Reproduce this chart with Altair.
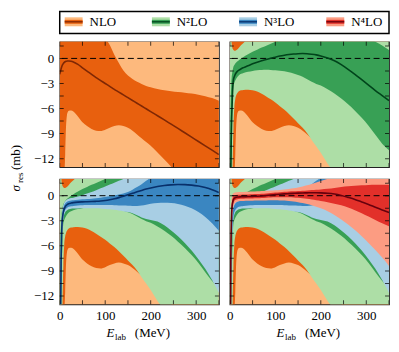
import altair as alt
import pandas as pd

# ---------------- data ----------------
E_LAB = [0, 1, 2, 3, 4, 5, 6, 7, 8, 10, 12, 14, 17, 20, 25, 30, 40, 50, 60, 70, 80, 90, 100,
         110, 120, 130, 140, 150, 160, 170, 180, 190, 200, 215, 230, 245, 260, 275, 290, 305,
         320, 335, 350]

NLO_C = [-1.9, -1.7, -1.45, -1.25, -1.05, -0.9, -0.78, -0.68, -0.6, -0.48, -0.4, -0.35, -0.31,
         -0.3, -0.33, -0.42, -0.72, -1.12, -1.52, -1.92, -2.3, -2.65, -3.0, -3.35, -3.7, -4.03,
         -4.37, -4.7, -5.03, -5.36, -5.7, -6.03, -6.36, -6.86, -7.36, -7.87, -8.38, -8.9, -9.42,
         -9.94, -10.46, -10.98, -11.5]
NLO_HI68 = [9.0, 9.0, 8.9, 8.8, 8.7, 8.6, 8.5, 8.4, 8.3, 8.1, 7.9, 7.7, 7.4, 7.1, 6.7, 6.3, 5.7,
            5.1, 4.6, 4.1, 3.6, 3.0, 2.45, 1.6, 0.45, -0.55, -1.45, -2.05, -2.45, -2.8, -3.05,
            -3.3, -3.45, -3.65, -3.8, -3.92, -4.02, -4.1, -4.2, -4.35, -4.52, -4.75, -5.06]
NLO_LO68 = [-30, -29, -28, -27, -25, -23, -21, -19, -17, -14.2, -11.5, -8.0, -6.5, -6.25, -6.22,
            -6.35, -6.95, -7.65, -8.1, -8.45, -8.65, -8.7, -8.55, -8.3, -8.1, -8.0, -8.1, -8.3,
            -8.65, -9.1, -9.55, -10.0, -10.45, -11.25, -12.1, -12.95, -13.8, -14.6, -15.4,
            -16.2, -17.0, -17.8, -18.6]
NLO_HI95 = [14, 14, 14, 14, 14, 14, 14, 14, 14, 14, 14, 14, 14, 14, 14, 14, 14, 14, 14, 14, 14,
            14, 14, 14, 14, 14, 14, 14, 14, 14, 14, 14, 14, 14, 14, 14, 14, 14, 14, 14, 14, 14, 14]
NLO_LO95 = [-40, -40, -40, -40, -40, -40, -40, -40, -40, -40, -40, -40, -40, -40, -40, -40, -40,
            -40, -40, -40, -40, -40, -40, -40, -40, -40, -40, -40, -40, -40, -40, -40, -40, -40,
            -40, -40, -40, -40, -40, -40, -40, -40, -40]

N2LO_C = [-25, -20, -14, -10, -7.2, -5.5, -4.0, -3.0, -2.55, -2.15, -1.9, -1.72, -1.52, -1.4,
          -1.23, -1.1, -0.88, -0.65, -0.45, -0.28, -0.12, 0.02, 0.15, 0.28, 0.38, 0.46, 0.52,
          0.56, 0.58, 0.56, 0.5, 0.42, 0.3, 0.05, -0.28, -0.75, -1.3, -1.9, -2.55, -3.2, -3.85,
          -4.45, -5.05]
N2LO_HI68 = [-12, -8, -5, -3.2, -2.3, -1.8, -1.45, -1.2, -1.0, -0.8, -0.62, -0.5, -0.35, -0.22,
             -0.02, 0.17, 0.5, 0.8, 1.05, 1.3, 1.52, 1.75, 2.0, 2.25, 2.45, 2.65, 2.8, 2.95, 3.05,
             3.12, 3.15, 3.15, 3.12, 3.05, 2.95, 2.85, 2.75, 2.6, 2.45, 2.25, 2.0, 1.55, 1.0]
N2LO_LO68 = [-40, -30, -22, -15, -10, -7.5, -5.5, -4.0, -3.3, -2.9, -2.65, -2.42, -2.18, -2.0,
             -1.85, -1.75, -1.6, -1.5, -1.42, -1.38, -1.37, -1.38, -1.42, -1.48, -1.55, -1.65,
             -1.8, -1.98, -2.2, -2.5, -2.8, -3.05, -3.25, -3.7, -4.2, -4.8, -5.5, -6.25, -7.1,
             -8.05, -9.15, -10.2, -11.0]
N2LO_HI95 = [12, 8, 4.0, 2.6, 1.8, 1.4, 1.2, 1.1, 1.0, 0.92, 0.92, 0.98, 1.1, 1.28, 1.6, 1.85,
             2.4, 2.9, 3.3, 3.7, 4.0, 4.3, 4.6, 4.8, 5.0, 5.2, 5.3, 5.4, 5.5, 5.5, 5.5, 5.5, 5.5,
             5.4, 5.3, 5.2, 5.1, 5.0, 4.9, 4.8, 4.6, 4.4, 4.2]
N2LO_LO95 = [-45, -40, -33, -26, -20, -16.5, -13.5, -10.5, -8.3, -5.8, -4.85, -4.42, -4.1, -3.92,
             -3.82, -3.77, -3.75, -3.82, -3.97, -4.22, -4.55, -4.9, -5.27, -5.72, -6.15, -6.65,
             -7.2, -7.75, -8.3, -8.95, -9.75, -10.5, -11.3, -12.6, -13.7, -14.8, -15.8, -16.8,
             -17.8, -18.8, -19.8, -20.8, -21.8]

N3LO_C = [-35, -25, -14, -8, -4.8, -3.4, -2.7, -2.25, -1.95, -1.55, -1.32, -1.17, -1.03, -0.95,
          -0.88, -0.83, -0.77, -0.74, -0.72, -0.7, -0.67, -0.63, -0.57, -0.48, -0.37, -0.23,
          -0.07, 0.1, 0.28, 0.46, 0.63, 0.79, 0.93, 1.1, 1.22, 1.3, 1.34, 1.33, 1.27, 1.15, 0.97,
          0.72, 0.38]
N3LO_HI68 = [-30, -20, -10, -5.5, -3.4, -2.5, -2.0, -1.68, -1.45, -1.12, -0.92, -0.8, -0.68,
             -0.62, -0.57, -0.54, -0.48, -0.44, -0.4, -0.36, -0.3, -0.24, -0.16, -0.08, 0.02,
             0.13, 0.27, 0.45, 0.72, 1.03, 1.38, 1.78, 2.15, 2.6, 2.95, 3.2, 3.4, 3.55, 3.65,
             3.7, 3.7, 3.65, 3.6]
N3LO_LO68 = [-40, -30, -18, -11, -6.5, -4.5, -3.5, -2.85, -2.45, -1.95, -1.7, -1.55, -1.42,
             -1.33, -1.27, -1.23, -1.18, -1.15, -1.12, -1.1, -1.1, -1.1, -1.1, -1.12, -1.14,
             -1.16, -1.18, -1.2, -1.22, -1.22, -1.18, -1.08, -0.97, -0.87, -0.83, -0.87, -0.98,
             -1.2, -1.5, -1.95, -2.55, -3.3, -4.2]
N3LO_HI95 = [-25, -16, -7.5, -4.2, -2.7, -2.0, -1.6, -1.3, -1.1, -0.82, -0.65, -0.54, -0.43,
             -0.36, -0.29, -0.24, -0.1, 0.06, 0.25, 0.45, 0.66, 0.88, 1.1, 1.33, 1.55, 1.78,
             2.0, 2.25, 2.5, 2.7, 2.9, 3.1, 3.3, 3.6, 3.9, 4.1, 4.3, 4.45, 4.6, 4.7, 4.8, 4.85,
             4.9]
N3LO_LO95 = [-45, -35, -22, -13, -8, -5.5, -4.2, -3.3, -2.8, -2.25, -1.98, -1.82, -1.7, -1.63,
             -1.57, -1.54, -1.52, -1.51, -1.5, -1.5, -1.51, -1.54, -1.58, -1.63, -1.69, -1.76,
             -1.85, -1.96, -2.1, -2.35, -2.6, -2.78, -2.9, -3.1, -3.55, -4.15, -4.85, -5.65,
             -6.55, -7.6, -8.75, -10.1, -11.65]

N4LO_C = [-35, -22, -9, -4.2, -2.1, -1.25, -0.85, -0.6, -0.45, -0.3, -0.23, -0.19, -0.16, -0.15,
          -0.13, -0.12, -0.1, -0.08, -0.06, -0.03, 0.02, 0.08, 0.13, 0.18, 0.22, 0.25, 0.28,
          0.31, 0.33, 0.34, 0.35, 0.35, 0.34, 0.3, 0.2, 0.03, -0.2, -0.45, -0.75, -1.05, -1.38,
          -1.7, -2.0]
N4LO_HI68 = [-30, -18, -7, -3.0, -1.3, -0.6, -0.3, -0.15, -0.06, 0.02, 0.06, 0.08, 0.1, 0.11,
             0.12, 0.13, 0.15, 0.17, 0.19, 0.22, 0.27, 0.32, 0.37, 0.42, 0.46, 0.5, 0.53, 0.56,
             0.6, 0.63, 0.67, 0.71, 0.75, 0.83, 0.93, 1.03, 1.12, 1.19, 1.24, 1.28, 1.3, 1.3, 1.3]
N4LO_LO68 = [-40, -26, -11, -5.4, -2.9, -1.9, -1.4, -1.05, -0.85, -0.62, -0.52, -0.46, -0.42,
             -0.4, -0.38, -0.37, -0.35, -0.33, -0.31, -0.28, -0.25, -0.22, -0.2, -0.19, -0.19,
             -0.2, -0.22, -0.26, -0.31, -0.38, -0.46, -0.55, -0.64, -0.78, -0.95, -1.15, -1.42,
             -1.75, -2.1, -2.5, -2.9, -3.3, -3.65]
N4LO_HI95 = [-25, -14, -4.5, -1.6, -0.5, -0.05, 0.15, 0.25, 0.3, 0.35, 0.38, 0.4, 0.42, 0.43,
             0.44, 0.45, 0.47, 0.49, 0.52, 0.55, 0.58, 0.61, 0.64, 0.68, 0.73, 0.8, 0.88, 0.98,
             1.1, 1.24, 1.4, 1.57, 1.75, 2.02, 2.3, 2.55, 2.75, 2.95, 3.1, 3.25, 3.35, 3.45, 3.5]
N4LO_LO95 = [-45, -30, -14, -7, -4.0, -2.7, -1.95, -1.5, -1.25, -0.98, -0.85, -0.77, -0.7,
             -0.66, -0.63, -0.62, -0.6, -0.59, -0.58, -0.57, -0.56, -0.55, -0.55, -0.56, -0.58,
             -0.62, -0.68, -0.77, -0.88, -1.0, -1.15, -1.32, -1.5, -1.85, -2.3, -2.85, -3.45,
             -4.1, -4.85, -5.65, -6.5, -7.4, -8.4]

ORDER_NAMES = ["NLO", "N²LO", "N³LO", "N⁴LO"]
LIGHT = ["#fdb97d", "#addea6", "#a8cee4", "#fc9c82"]
DARK = ["#e8600e", "#38a055", "#3a86c1", "#e2302a"]
LINEC = ["#7f2704", "#00441b", "#08306b", "#67000d"]

X_LABELS = [0, 100, 200, 300]
Y_LABELS = [0, -3, -6, -9, -12]
X_TICKS = [0, 50, 100, 150, 200, 250, 300, 350]
Y_TICKS = [-12, -10.5, -9, -7.5, -6, -4.5, -3, -1.5, 0, 1.5]

FONT = "Liberation Serif"
W, H = 160, 126

bands = [
    (NLO_C, NLO_LO68, NLO_HI68, NLO_LO95, NLO_HI95),
    (N2LO_C, N2LO_LO68, N2LO_HI68, N2LO_LO95, N2LO_HI95),
    (N3LO_C, N3LO_LO68, N3LO_HI68, N3LO_LO95, N3LO_HI95),
    (N4LO_C, N4LO_LO68, N4LO_HI68, N4LO_LO95, N4LO_HI95),
]
frames = [pd.DataFrame({"E": E_LAB, "c": c, "lo68": l1, "hi68": h1, "lo95": l2, "hi95": h2})
          for (c, l1, h1, l2, h2) in bands]

xscale = alt.Scale(domain=[0, 350], nice=False, zero=False)
yscale = alt.Scale(domain=[-13, 2], nice=False, zero=False)


def legend_layers():
    leg_df = pd.DataFrame({"order": ORDER_NAMES, "light": LIGHT, "dark": DARK, "line": LINEC})
    lx = alt.X("order:N", scale=alt.Scale(type="point", domain=ORDER_NAMES, range=[5, 268],
                                          padding=0), axis=None)
    base = alt.Chart(leg_df)
    out = [alt.Chart(pd.DataFrame({"b": [1]})).mark_rect(
        fill="white", stroke="black", strokeWidth=1.5).encode(
        x=alt.value(0), x2=alt.value(331), y=alt.value(-30.3), y2=alt.value(-8.3))]
    for w, col in [(9, "light"), (4, "dark"), (1.3, "line")]:
        out.append(base.mark_rule(strokeWidth=w, strokeCap="butt", x2Offset=18).encode(
            x=lx, x2="order:N", y=alt.value(-20), color=alt.Color(col + ":N", scale=None)))
    out.append(base.mark_text(align="left", baseline="alphabetic", dx=25, font=FONT,
                              fontSize=13, color="black").encode(
        x=lx, y=alt.value(-15.3), text="order:N"))
    return out


def panel(k, left, bottom):
    xaxis = (alt.Axis(values=X_LABELS, ticks=False, domain=False, grid=False, labelFont=FONT,
                      labelFontSize=13, labelColor="black", labelPadding=5, title=None,
                      labelFlush=False)
             if bottom else None)
    yaxis = (alt.Axis(values=Y_LABELS, ticks=False, domain=False, grid=False, labelFont=FONT,
                      labelFontSize=13, labelColor="black", labelPadding=6, title=None)
             if left else None)
    X = alt.X("E:Q", scale=xscale, axis=xaxis)
    layers = []
    for j in range(k + 1):
        df = frames[j]
        layers.append(alt.Chart(df).mark_area(color=LIGHT[j], clip=True, opacity=1,
                                              interpolate="monotone").encode(
            x=X, y=alt.Y("lo95:Q", scale=yscale, axis=yaxis), y2="hi95:Q"))
        layers.append(alt.Chart(df).mark_area(color=DARK[j], clip=True, opacity=1,
                                              interpolate="monotone").encode(
            x=X, y=alt.Y("lo68:Q", scale=yscale, axis=yaxis), y2="hi68:Q"))
    layers.append(alt.Chart(pd.DataFrame({"z": [0]})).mark_rule(
        color="black", strokeDash=[6, 3.5], strokeWidth=1).encode(
        y=alt.Y("z:Q", scale=yscale, axis=yaxis)))
    layers.append(alt.Chart(frames[k]).mark_line(
        color=LINEC[k], strokeWidth=1.6, clip=True, interpolate="monotone").encode(
        x=X, y=alt.Y("c:Q", scale=yscale, axis=yaxis)))
    xt = alt.Chart(pd.DataFrame({"t": X_TICKS}))
    yt = alt.Chart(pd.DataFrame({"t": Y_TICKS}))
    for yd in (-13, 2):
        layers.append(xt.mark_tick(orient="vertical", size=8, thickness=1, color="black",
                                   clip=True).encode(
            x=alt.X("t:Q", scale=xscale, axis=xaxis),
            y=alt.YDatum(yd, scale=yscale, axis=yaxis)))
    for xd in (0, 350):
        layers.append(yt.mark_tick(orient="horizontal", size=8, thickness=1, color="black",
                                   clip=True).encode(
            y=alt.Y("t:Q", scale=yscale, axis=yaxis),
            x=alt.XDatum(xd, scale=xscale, axis=xaxis)))
    if bottom:
        for txt, xp, yp, fs, st in [("E", 47, 158.5, 13, "italic"),
                                    ("lab", 55.5, 161.5, 9, "normal"),
                                    ("(MeV)", 75.5, 158.5, 13, "normal")]:
            layers.append(alt.Chart(pd.DataFrame({"t": [txt]})).mark_text(
                align="left", baseline="alphabetic", font=FONT, fontSize=fs, fontStyle=st,
                color="black").encode(text="t:N", x=alt.value(xp), y=alt.value(yp)))
    if k == 0:
        for txt, xp, yp, fs, st in [("σ", -39.8, 150.7, 13, "italic"),
                                    ("res", -36.8, 142.0, 9, "normal"),
                                    ("(mb)", -39.8, 129.0, 13, "normal")]:
            layers.append(alt.Chart(pd.DataFrame({"t": [txt]})).mark_text(
                align="left", baseline="alphabetic", font=FONT, fontSize=fs, fontStyle=st,
                angle=270, color="black").encode(text="t:N", x=alt.value(xp), y=alt.value(yp)))
        layers.extend(legend_layers())
        return alt.layer(*layers).resolve_scale(x="independent").properties(
            width=W, height=H, view=alt.ViewBackground(stroke="#222222", strokeWidth=1.2))
    return alt.layer(*layers).properties(
        width=W, height=H, view=alt.ViewBackground(stroke="#222222", strokeWidth=1.2))


chart = alt.concat(
    panel(0, True, False), panel(1, False, False),
    panel(2, True, True), panel(3, False, True),
    columns=2, spacing=alt.RowColnumber(row=12, column=11), bounds="flush",
).properties(
    padding={"left": 1, "top": 1, "right": 0, "bottom": 0}
).configure(background="white")

chart.save("out.html", embed_options={"renderer": "svg", "actions": False})
